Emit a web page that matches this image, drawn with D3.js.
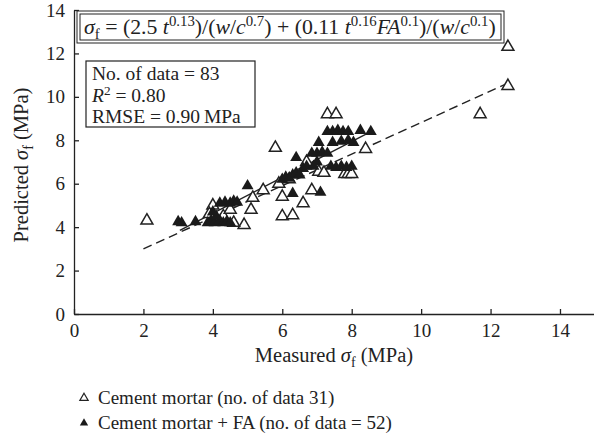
<!DOCTYPE html>
<html><head><meta charset="utf-8">
<script src="https://cdn.jsdelivr.net/npm/d3@7/dist/d3.min.js"></script>
<style>body{margin:0;background:#fff}svg{display:block}text{font-family:"Liberation Serif","DejaVu Serif",serif;fill:#222}</style>
</head><body>
<script>
// ---- data ----
const xTicks = [0,2,4,6,8,10,12,14];
const yTicks = [0,2,4,6,8,10,12,14];
const cementX = [2.1,4.0,4.1,4.3,4.5,4.9,5.1,5.15,5.45,5.9,6.0,6.0,6.3,6.6,6.85,7.05,6.7,5.8,7.3,7.55,8.4,7.8,7.9,8.0,11.7,12.5,12.5,4.6,7.2,3.9,6.2];
const cementY = [4.3,5.0,4.3,4.5,4.8,4.1,4.8,5.35,5.7,6.0,5.4,4.5,4.55,5.1,5.7,6.55,7.0,7.65,9.2,9.2,7.6,6.45,6.45,6.45,9.2,12.3,10.5,4.2,6.5,4.6,6.2];
const faX = [3.0,3.1,3.5,3.85,3.95,4.05,4.2,4.3,4.4,4.5,4.1, 4.2,4.35,4.5,4.6,4.7, 4.0, 5.0, 6.0,6.1,6.2,6.3,6.4,6.5, 6.3,7.1, 6.4, 6.6,6.7,6.9,7.0, 6.85,7.0,7.15,7.3, 7.05, 7.3,7.45,7.6,7.75,7.9,8.25,8.55, 7.45,7.7,7.9,8.05, 7.4,7.55,7.7,7.85,8.0];
const faY = [4.25,4.2,4.25,4.2,4.3,4.2,4.3,4.2,4.25,4.2,4.5, 5.1,5.15,5.1,5.2,5.15, 4.7, 5.9, 6.2,6.3,6.25,6.4,6.5,6.4, 5.55,5.6, 7.2, 6.7,6.8,6.8,7.0, 7.4,7.4,7.45,7.4, 7.9, 8.4,8.4,8.45,8.4,8.4,8.45,8.4, 7.9,7.95,8.0,7.9, 6.8,6.75,6.8,6.75,6.8];
const dashedLine = [[2.0,3.0],[12.45,10.6]];
const solidLine = [[3.05,3.85],[8.4,8.27]];
const statLines = ["No. of data = 83","R2 = 0.80","RMSE = 0.90\u2009MPa"];
const legendLabels = ["Cement mortar (no. of data 31)","Cement mortar + FA (no. of data = 52)"];

const W=594,H=441;
const svg=d3.select("body").append("svg").attr("width",W).attr("height",H);
const x=d3.scaleLinear().domain([0,15]).range([74,594.7]);
const y=d3.scaleLinear().domain([0,14]).range([314,10]);

// axes
const xAxis=d3.axisBottom(x).tickValues(xTicks).tickSizeInner(-5).tickSizeOuter(0).tickPadding(7);
const yAxis=d3.axisLeft(y).tickValues(yTicks).tickSizeInner(-5).tickSizeOuter(0).tickPadding(9);
const gx=svg.append("g").attr("transform",`translate(0,${y(0)})`).call(xAxis);
const gy=svg.append("g").attr("transform",`translate(${x(0)},0)`).call(yAxis);
[gx,gy].forEach(g=>{g.selectAll("path,line").attr("stroke","#222").attr("stroke-width",1.3);
 g.selectAll("text").style("font-family",'"Liberation Serif",serif').attr("font-size",19).attr("fill","#222");});
gx.selectAll(".tick text").attr("dy","0.85em");

function rich(sel,segs,fs){
  let pend=0;
  segs.forEach(s=>{
    const ts=sel.append("tspan").text(s.t);
    if(s.i) ts.attr("font-style","italic");
    let shift=0;
    if(s.s==="sup"){ts.attr("font-size",fs*0.68);shift=-fs*0.38;}
    else if(s.s==="sub"){ts.attr("font-size",fs*0.68);shift=fs*0.22;}
    const dy=pend+shift;
    if(dy!==0) ts.attr("dy",dy);
    pend=-shift;
  });
}

// axis labels
const xl=svg.append("text").attr("x",334).attr("y",362).attr("text-anchor","middle").attr("font-size",20.5);
rich(xl,[{t:"Measured "},{t:"σ",i:1},{t:"f",s:"sub"},{t:" (MPa)"}],20.5);
const yl=svg.append("text").attr("transform","translate(28,165) rotate(-90)").attr("text-anchor","middle").attr("font-size",20.5);
rich(yl,[{t:"Predicted "},{t:"σ",i:1},{t:"f",s:"sub"},{t:" (MPa)"}],20.5);

// equation box (double border)
svg.append("rect").attr("x",77).attr("y",11).attr("width",427).attr("height",32).attr("fill","#fff").attr("stroke","#222").attr("stroke-width",1);
svg.append("rect").attr("x",80).attr("y",14).attr("width",421).attr("height",26).attr("fill","none").attr("stroke","#222").attr("stroke-width",1);
const eq=svg.append("text").attr("x",84).attr("y",34).attr("font-size",21.8);
rich(eq,[{t:"σ",i:1},{t:"f",s:"sub"},{t:" = (2.5 "},{t:"t",i:1},{t:"0.13",s:"sup"},{t:")/("},{t:"w",i:1},{t:"/"},{t:"c",i:1},{t:"0.7",s:"sup"},
 {t:") + (0.11 "},{t:"t",i:1},{t:"0.16",s:"sup"},{t:"FA",i:1},{t:"0.1",s:"sup"},{t:")/("},{t:"w",i:1},{t:"/"},{t:"c",i:1},{t:"0.1",s:"sup"},{t:")"}],21.8);

// stats box
svg.append("rect").attr("x",86).attr("y",61).attr("width",169).attr("height",66).attr("fill","#fff").attr("stroke","#222").attr("stroke-width",1.2);
const st=svg.append("g");
st.append("text").attr("x",92).attr("y",80).attr("font-size",19.5).text(statLines[0]);
const r2=st.append("text").attr("x",92).attr("y",102).attr("font-size",19.5);
rich(r2,[{t:"R",i:1},{t:"2",s:"sup"},{t:statLines[1].slice(2)}],19.5);
st.append("text").attr("x",92).attr("y",123).attr("font-size",19.5).text(statLines[2]);

// lines
const line=d3.line().x(d=>x(d[0])).y(d=>y(d[1]));
svg.append("path").attr("d",line(dashedLine)).attr("stroke","#222").attr("stroke-width",1.4).attr("fill","none").attr("stroke-dasharray","9,5");
svg.append("path").attr("d",line(solidLine)).attr("stroke","#222").attr("stroke-width",1.3).attr("fill","none");

// points
const tri=d3.symbol(d3.symbolTriangle,62);
svg.append("g").selectAll("path").data(cementX.map((v,i)=>[v,cementY[i]])).join("path")
 .attr("d",tri).attr("transform",d=>`translate(${x(d[0])},${y(d[1])})`).attr("fill","#fff").attr("stroke","#222").attr("stroke-width",1.5);
svg.append("g").selectAll("path").data(faX.map((v,i)=>[v,faY[i]])).join("path")
 .attr("d",tri).attr("transform",d=>`translate(${x(d[0])},${y(d[1])})`).attr("fill","#1a1a1a");

// legend
const tri2=d3.symbol(d3.symbolTriangle,30);
svg.append("path").attr("d",tri2).attr("transform","translate(84,398)").attr("fill","#fff").attr("stroke","#222").attr("stroke-width",1.2);
svg.append("path").attr("d",tri2).attr("transform","translate(84,423)").attr("fill","#1a1a1a");
svg.append("text").attr("x",98).attr("y",404).attr("font-size",19).text(legendLabels[0]);
svg.append("text").attr("x",98).attr("y",429).attr("font-size",19).text(legendLabels[1]);
</script>
</body></html>
